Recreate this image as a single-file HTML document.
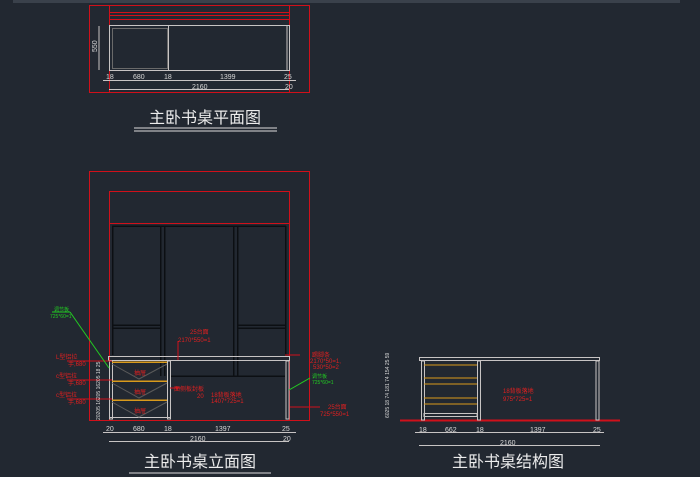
<!DOCTYPE html>
<html><head><meta charset="utf-8"><style>
html,body{margin:0;padding:0;background:#222831;width:700px;height:477px;overflow:hidden}
svg{display:block}
text{font-family:"Liberation Sans","Noto Sans CJK SC",sans-serif}
</style></head><body>
<svg width="700" height="477" viewBox="0 0 700 477" xmlns="http://www.w3.org/2000/svg" shape-rendering="crispEdges">
<rect x="13" y="0" width="667" height="3" fill="#3a414b"/>
<!-- PLAN -->
<g fill="none" stroke="#d0101a" stroke-width="1.4">
<rect x="89.5" y="5.5" width="220" height="87"/>
<line x1="109.5" y1="5" x2="109.5" y2="92"/><line x1="289.5" y1="5" x2="289.5" y2="92"/>
<line x1="109" y1="12.5" x2="289" y2="12.5"/><line x1="109" y1="15.5" x2="289" y2="15.5"/><line x1="109" y1="19.5" x2="289" y2="19.5"/>
</g>
<g fill="none" stroke="#c8c4c4" stroke-width="1.2">
<rect x="109.5" y="25.5" width="180" height="45"/>
<rect x="112.5" y="28.5" width="55" height="40" stroke="#6a6a6a"/>
<line x1="168.5" y1="25" x2="168.5" y2="71"/>
<line x1="287" y1="25" x2="287" y2="71"/>
<line x1="103" y1="80.5" x2="296" y2="80.5"/>
<line x1="109" y1="89.5" x2="289" y2="89.5"/>
<line x1="99" y1="26" x2="99" y2="70"/>
</g>
<g fill="#d8d8d8" font-size="7">
<text x="106" y="79">18</text><text x="133" y="79">680</text><text x="164" y="79">18</text><text x="220" y="79">1399</text><text x="284" y="79">25</text>
<text x="192" y="89">2160</text><text x="285" y="89">20</text>
<text x="97" y="52" transform="rotate(-90 97 52)">550</text>
</g>
<text x="205" y="123" font-size="16" fill="#ececec" text-anchor="middle">主卧书桌平面图</text>
<line x1="134" y1="128" x2="277" y2="128" stroke="#ddd"/><line x1="134" y1="131" x2="277" y2="131" stroke="#ddd"/>
<!-- ELEVATION -->
<g fill="none" stroke="#d0101a" stroke-width="1.4">
<rect x="89.5" y="171.5" width="220" height="249"/>
<rect x="109.5" y="191.5" width="180" height="32"/>
<line x1="109.5" y1="224" x2="109.5" y2="420"/><line x1="289.5" y1="224" x2="289.5" y2="420"/>
</g>
<g fill="none" stroke="#0c0f13" stroke-width="1.5">
<line x1="112" y1="226" x2="286" y2="226"/>
<line x1="112.5" y1="226" x2="112.5" y2="355"/><line x1="285.5" y1="226" x2="285.5" y2="355"/>
<line x1="160.5" y1="226" x2="160.5" y2="376"/><line x1="164.5" y1="226" x2="164.5" y2="376"/>
<line x1="233.5" y1="226" x2="233.5" y2="376"/><line x1="237.5" y1="226" x2="237.5" y2="376"/>
<line x1="112" y1="325" x2="160" y2="325"/><line x1="112" y1="328" x2="160" y2="328"/>
<line x1="237" y1="325" x2="286" y2="325"/><line x1="237" y1="328" x2="286" y2="328"/>
<line x1="170" y1="376" x2="285" y2="376"/>
</g>
<g fill="none" stroke="#c8c4c4" stroke-width="1.2">
<rect x="108.5" y="356.5" width="181" height="4"/>
<rect x="109.5" y="361" width="3" height="58"/><rect x="167.5" y="361" width="3" height="58"/>
<rect x="286" y="361" width="3" height="58"/>
<line x1="109" y1="417.5" x2="170" y2="417.5"/>
<line x1="103" y1="432.5" x2="296" y2="432.5"/><line x1="109" y1="441.5" x2="289" y2="441.5"/>
</g>
<g stroke="#5a5a5a" fill="none" shape-rendering="auto">
<path d="M112 364 L139 379 L167 364 M112 383 L139 398 L167 383 M112 402 L139 417 L167 402"/>
</g>
<g stroke="#d99a1c" stroke-width="1.5"><line x1="112" y1="362" x2="167" y2="362"/><line x1="112" y1="381" x2="167" y2="381"/><line x1="112" y1="400" x2="167" y2="400"/></g>
<g stroke="#d0101a" stroke-width="1.2"><line x1="178" y1="341" x2="178" y2="360"/><line x1="285" y1="355" x2="300" y2="355"/><line x1="290" y1="407" x2="320" y2="407"/><line x1="170" y1="388" x2="180" y2="388"/><line x1="67" y1="361" x2="112" y2="361"/><line x1="67" y1="380" x2="112" y2="380"/><line x1="67" y1="399" x2="112" y2="399"/></g>
<g stroke="#22cc22" shape-rendering="auto"><line x1="52" y1="312" x2="70" y2="312"/><line x1="70" y1="312" x2="109" y2="368"/><line x1="289" y1="390" x2="310" y2="378"/></g>
<g fill="#e02020" font-size="6">
<text x="190" y="334">25台面</text><text x="178" y="342">2170*550=1</text>
<text x="312" y="357">踢脚条</text><text x="310" y="363">2170*50=1,</text><text x="313" y="369">530*50=2</text>
<text x="211" y="397">18背板落地</text><text x="211" y="403">1407*725=1</text>
<text x="174" y="391">面侧板封板</text><text x="197" y="398">20</text>
<text x="328" y="409">25台面</text><text x="320" y="416">725*550=1</text>
<text x="56" y="359">L型铝拉</text><text x="68" y="366">手,680</text>
<text x="56" y="378">c型铝拉</text><text x="68" y="385">手,680</text>
<text x="56" y="397">c型铝拉</text><text x="68" y="404">手,680</text>
<text x="134" y="375">抽屉</text><text x="134" y="394">抽屉</text><text x="134" y="413">抽屉</text>
</g>
<g fill="#22cc22" font-size="5"><text x="54" y="311">调节板</text><text x="50" y="318">725*60=1</text><text x="312" y="378">调节板</text><text x="312" y="384">725*60=1</text></g>
<g fill="#d8d8d8" font-size="7">
<text x="106" y="431">20</text><text x="133" y="431">680</text><text x="164" y="431">18</text><text x="215" y="431">1397</text><text x="282" y="431">25</text>
<text x="190" y="441">2160</text><text x="283" y="441">20</text>
<text x="100" y="420" font-size="5" transform="rotate(-90 100 420)">20205 16205 16205 18 25</text>
</g>
<text x="200" y="467" font-size="16" fill="#ececec" text-anchor="middle">主卧书桌立面图</text>
<line x1="129" y1="473" x2="271" y2="473" stroke="#ddd"/>
<!-- STRUCTURE -->
<line x1="400" y1="420.5" x2="620" y2="420.5" stroke="#d0101a" stroke-width="1.6"/>
<g fill="none" stroke="#c8c4c4" stroke-width="1.2">
<rect x="419.5" y="357.5" width="180" height="3"/>
<rect x="421.5" y="361" width="3" height="59"/><rect x="477.5" y="361" width="3" height="59"/>
<rect x="596" y="361" width="3" height="59"/>
<rect x="424" y="413.5" width="53" height="3"/>
<line x1="415" y1="432.5" x2="604" y2="432.5"/><line x1="419" y1="445.5" x2="600" y2="445.5"/>
</g>
<g stroke="#d99a1c" stroke-width="1.3"><line x1="424" y1="365" x2="477" y2="365"/><line x1="424" y1="378" x2="477" y2="378"/><line x1="424" y1="384" x2="477" y2="384"/><line x1="424" y1="398" x2="477" y2="398"/><line x1="424" y1="404" x2="477" y2="404"/></g>
<g fill="#e02020" font-size="6"><text x="503" y="393">18背板落地</text><text x="503" y="401">975*725=1</text></g>
<g fill="#d8d8d8" font-size="7">
<text x="419" y="432">18</text><text x="445" y="432">662</text><text x="476" y="432">18</text><text x="530" y="432">1397</text><text x="593" y="432">25</text>
<text x="500" y="445">2160</text>
<text x="389" y="418" font-size="5" transform="rotate(-90 389 418)">6025 18 74 181 74 154 25 59</text>
</g>
<text x="508" y="467" font-size="16" fill="#ececec" text-anchor="middle">主卧书桌结构图</text>
</svg>
</body></html>
